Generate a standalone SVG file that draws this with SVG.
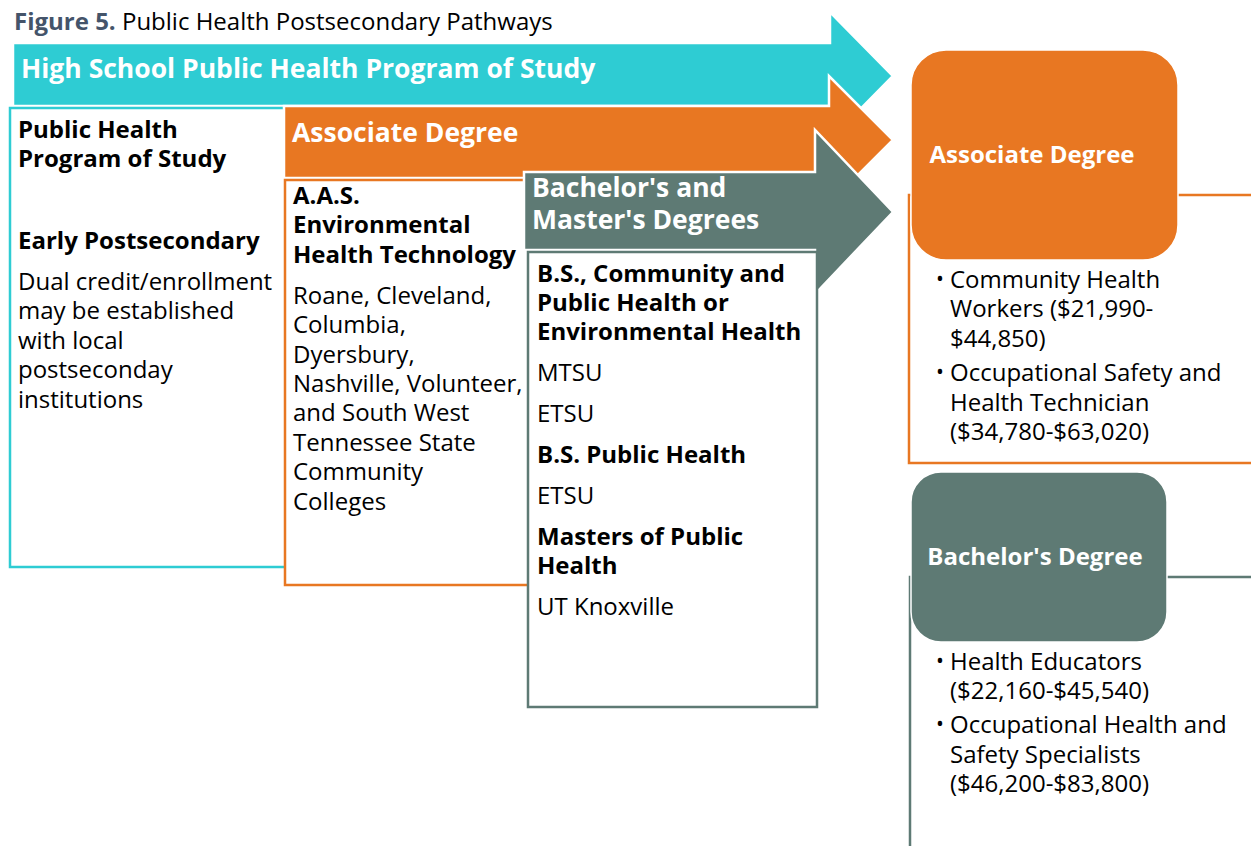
<svg xmlns="http://www.w3.org/2000/svg" width="1251" height="846" viewBox="0 0 1251 846">
<style>
text{font-family:"Open Sans","Noto Sans","Liberation Sans",sans-serif;}
.t{font-size:24px;fill:#000;}
.b{font-weight:700;}
.h{font-size:26.5px;font-weight:700;fill:#fff;}
.hr{font-size:24px;font-weight:700;fill:#fff;}
.bul{font-size:21px;fill:#000;}
.arrow{stroke:#fff;stroke-width:2.5;}
.box{fill:#fff;stroke-width:2.5;}
.conn{fill:none;stroke-width:2.5;}
</style>
<rect width="1251" height="846" fill="#fff"/>
<text x="14" y="30" style="font-size:24px"><tspan font-weight="700" fill="#44546A">Figure 5.</tspan><tspan fill="#000"> Public Health Postsecondary Pathways</tspan></text>

<g id="connectors">
<rect class="conn" x="909" y="195" width="380" height="268" stroke="#E87722"/>
<rect class="conn" x="910" y="577" width="380" height="320" stroke="#5E7A74"/>
</g>

<g id="highschool">
<path class="arrow" d="M13,43 L830,43 L830,12 L893,76 L830,140 L830,106 L13,106 Z" fill="#2ECCD3"/>
<rect class="box" x="10" y="108" width="300" height="459" stroke="#2ECCD3"/>
<text x="21" y="78" class="h">High School Public Health Program of Study</text>
<text class="t b" x="18" y="138">Public Health</text>
<text class="t b" x="18" y="167">Program of Study</text>
<text class="t b" x="18" y="249">Early Postsecondary</text>
<text class="t" x="18" y="290">Dual credit/enrollment</text>
<text class="t" x="18" y="319">may be established</text>
<text class="t" x="18" y="349">with local</text>
<text class="t" x="18" y="378">postseconday</text>
<text class="t" x="18" y="408">institutions</text>
</g>

<g id="associate">
<path class="arrow" d="M284,106 L829,106 L829,76 L893,140 L829,204 L829,178 L284,178 Z" fill="#E87722"/>
<rect class="box" x="285" y="180" width="270" height="405" stroke="#E87722"/>
<text x="292" y="142" class="h">Associate Degree</text>
<text class="t b" x="293" y="204">A.A.S.</text>
<text class="t b" x="293" y="233">Environmental</text>
<text class="t b" x="293" y="263">Health Technology</text>
<text class="t" x="293" y="304">Roane, Cleveland,</text>
<text class="t" x="293" y="333">Columbia,</text>
<text class="t" x="293" y="363">Dyersbury,</text>
<text class="t" x="293" y="392">Nashville, Volunteer,</text>
<text class="t" x="293" y="421">and South West</text>
<text class="t" x="293" y="451">Tennessee State</text>
<text class="t" x="293" y="480">Community</text>
<text class="t" x="293" y="510">Colleges</text>
</g>

<g id="bachelor">
<path class="arrow" d="M524,172 L815,172 L815,130 L893,212 L815,294 L815,250 L524,250 Z" fill="#5E7A74"/>
<rect class="box" x="528" y="252" width="289" height="455" stroke="#5E7A74"/>
<text x="532" y="197" class="h">Bachelor's and</text>
<text x="532" y="229" class="h">Master's Degrees</text>
<text class="t b" x="537" y="282">B.S., Community and</text>
<text class="t b" x="537" y="311">Public Health or</text>
<text class="t b" x="537" y="340">Environmental Health</text>
<text class="t" x="537" y="381">MTSU</text>
<text class="t" x="537" y="422">ETSU</text>
<text class="t b" x="537" y="463">B.S. Public Health</text>
<text class="t" x="537" y="504">ETSU</text>
<text class="t b" x="537" y="545">Masters of Public</text>
<text class="t b" x="537" y="574">Health</text>
<text class="t" x="537" y="615">UT Knoxville</text>
</g>

<g id="assoc-career">
<rect x="911" y="50" width="267" height="210" rx="35" fill="#E87722" stroke="#fff" stroke-width="1.5"/>
<text x="1032" y="163" class="hr" text-anchor="middle">Associate Degree</text>
<text class="bul" x="936" y="286">•</text>
<text class="t" x="950" y="288">Community Health</text>
<text class="t" x="950" y="317">Workers ($21,990-</text>
<text class="t" x="950" y="347">$44,850)</text>
<text class="bul" x="936" y="379">•</text>
<text class="t" x="950" y="381">Occupational Safety and</text>
<text class="t" x="950" y="411">Health Technician</text>
<text class="t" x="950" y="440">($34,780-$63,020)</text>
</g>

<g id="bach-career">
<rect x="911" y="472" width="256" height="170" rx="30" fill="#5E7A74" stroke="#fff" stroke-width="1.5"/>
<text x="1035" y="565" class="hr" text-anchor="middle">Bachelor's Degree</text>
<text class="bul" x="936" y="668">•</text>
<text class="t" x="950" y="670">Health Educators</text>
<text class="t" x="950" y="699">($22,160-$45,540)</text>
<text class="bul" x="936" y="731">•</text>
<text class="t" x="950" y="733">Occupational Health and</text>
<text class="t" x="950" y="763">Safety Specialists</text>
<text class="t" x="950" y="792">($46,200-$83,800)</text>
</g>
</svg>
